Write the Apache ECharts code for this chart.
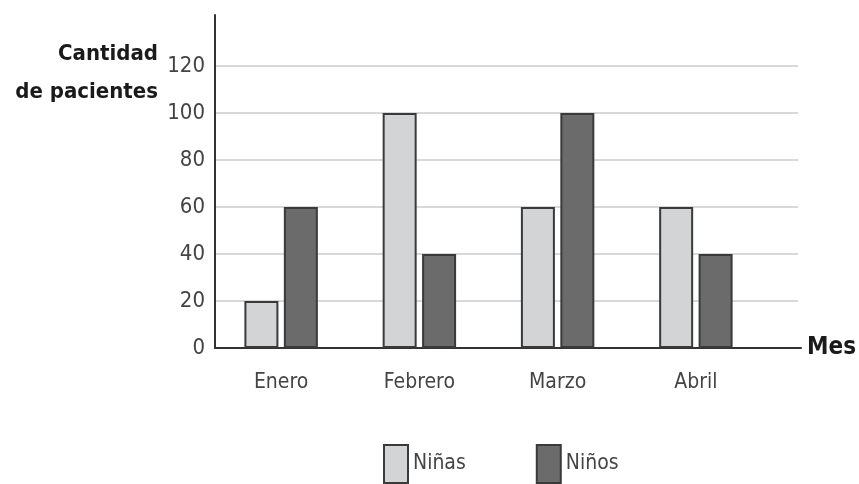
<!DOCTYPE html>
<html><head><meta charset="utf-8">
<script src="https://cdn.jsdelivr.net/npm/echarts@6/dist/echarts.min.js"></script>
<style>html,body{margin:0;padding:0;background:#fff}#c{width:859px;height:484px}</style>
</head><body><div id="c"></div>
<script>
const categories = ['Enero', 'Febrero', 'Marzo', 'Abril'];
const ninas = [20, 100, 60, 60];
const ninos = [60, 40, 100, 40];
const seriesNames = ['Niñas', 'Niños'];
const yTicks = [0, 20, 40, 60, 80, 100, 120];
const yTitle = ['Cantidad', 'de pacientes'];

const FONT = '"Liberation Sans Narrow", "DejaVu Sans Condensed", sans-serif';
const chart = echarts.init(document.getElementById('c'));
const barStyle = (c) => ({ color: c, borderColor: '#3a3a3a', borderWidth: 2 });
chart.setOption({
  animation: false,
  graphic: [{
    type: 'text', x: 158, y: 35,
    style: {
      text: yTitle.join('\n'), align: 'right', verticalAlign: 'top',
      font: 'bold 22px ' + FONT, lineHeight: 38, fill: '#1a1a1a'
    }
  }],
  legend: {
    data: seriesNames,
    top: 439, left: 378,
    itemWidth: 24, itemHeight: 38, itemGap: 70,
    icon: 'rect',
    textStyle: { fontFamily: FONT, fontSize: 21, color: '#444' }
  },
  grid: [
    { left: 215, top: 66, width: 583, height: 282 },
    { left: 212, top: 66, width: 553, height: 282 },
    { left: 215, top: 15, width: 592, height: 333 }
  ],
  xAxis: [
    { gridIndex: 0, type: 'value', min: 0, max: 1, show: false },
    { gridIndex: 1, type: 'category', data: categories,
      axisLine: { show: false }, axisTick: { show: false },
      axisLabel: { fontFamily: FONT, fontSize: 21, color: '#444', margin: 24 } },
    { gridIndex: 2, type: 'value', min: 0, max: 1,
      axisLine: { show: true, lineStyle: { color: '#333', width: 2 } },
      axisTick: { show: false }, axisLabel: { show: false }, splitLine: { show: false },
      name: 'Mes', nameLocation: 'end', nameGap: 6,
      nameTextStyle: { fontFamily: FONT, fontWeight: 'bold', fontSize: 24, color: '#1a1a1a', verticalAlign: 'middle' } }
  ],
  yAxis: [
    { gridIndex: 0, type: 'value', min: yTicks[0], max: yTicks[yTicks.length - 1], interval: 20,
      axisLine: { show: false }, axisTick: { show: false },
      axisLabel: { fontFamily: FONT, fontSize: 22, color: '#444', margin: 10 },
      splitLine: { lineStyle: { color: '#d8d8d8', width: 2 } } },
    { gridIndex: 1, type: 'value', min: yTicks[0], max: yTicks[yTicks.length - 1], show: false },
    { gridIndex: 2, type: 'value', min: 0, max: 1,
      axisLine: { show: true, lineStyle: { color: '#333', width: 2 } },
      axisTick: { show: false }, axisLabel: { show: false }, splitLine: { show: false } }
  ],
  series: [
    { name: seriesNames[0], type: 'bar', xAxisIndex: 1, yAxisIndex: 1, data: ninas,
      barWidth: 34, barGap: '16%', itemStyle: barStyle('#d3d4d6') },
    { name: seriesNames[1], type: 'bar', xAxisIndex: 1, yAxisIndex: 1, data: ninos,
      barWidth: 34, itemStyle: barStyle('#6b6b6b') }
  ]
});
</script></body></html>
